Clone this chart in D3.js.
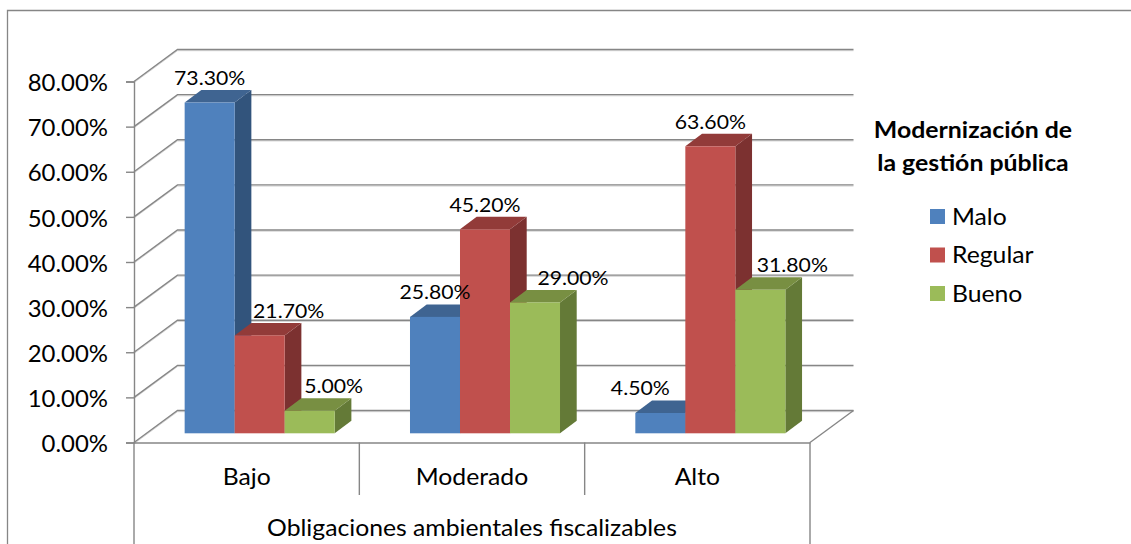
<!DOCTYPE html>
<html lang="es">
<head>
    <meta charset="UTF-8" />
    <title>Modernización de la gestión pública</title>
    <script src="https://d3js.org/d3.v7.min.js"></script>
    <style>
        html, body { margin: 0; padding: 0; background: #fff; }
        svg { display: block; }
        text { font-family: Lato, "Noto Sans", sans-serif; fill: #000; }
    </style>
</head>
<body>
    <div id="container"></div>
    <script>
        const categories = ["Bajo", "Moderado", "Alto"]
        const seriesNames = ["Malo", "Regular", "Bueno"]
        const malo = [73.3, 25.8, 4.5]
        const regular = [21.7, 45.2, 63.6]
        const bueno = [5.0, 29.0, 31.8]
        const yTicks = [0, 10, 20, 30, 40, 50, 60, 70, 80]
        const legendTitle = ["Modernización de", "la gestión pública"]
        const axisTitle = "Obligaciones ambientales fiscalizables"

        const width = 1131
        const height = 544
        const front = { left: 134, right: 810, top: 81.5, bottom: 442.5 }
        const wall = { dx: 43.5, dy: 32 }       // back wall offset of the 3d box
        const barShift = { dx: 13, dy: -9.2 }   // bars stand a bit inside the floor
        const depth = { dx: 16.7, dy: 12.5 }    // depth of a single bar
        const grey = "#868686"

        const colors = [
            { front: "#4f81bd", top: "#3f6491", side: "#32547c" },
            { front: "#c0504d", top: "#923b39", side: "#7c3130" },
            { front: "#9bbb59", top: "#788f42", side: "#647a37" }
        ]
        // labels were moved by hand in the original chart
        const labelShift = [[0, 29, 24], [0, 0, 38], [-20, 0, 32]]

        // the original text is a bit stretched sideways, Lato alone comes out too narrow
        const stretch = (selection, factor) => selection.each(function () {
            d3.select(this)
                .attr("textLength", this.getComputedTextLength() * factor)
                .attr("lengthAdjust", "spacingAndGlyphs")
        })

        const svg = d3.select("#container").append("svg")
            .attr("width", width)
            .attr("height", height)
            .attr("viewBox", [0, 0, width, height])

        // outer frame, only top and left show up
        svg.append("path")
            .attr("d", `M7.5,${height}V10.5H${width}`)
            .attr("fill", "none")
            .attr("stroke", grey)
            .attr("stroke-width", 1.3)

        const y = d3.scaleLinear().domain([0, 80]).range([front.bottom, front.top])
        const x = d3.scaleBand().domain(categories).range([front.left, front.right])
        const xBar = d3.scaleBand().domain(seriesNames)
            .range([0, x.bandwidth()]).paddingOuter(0.753).paddingInner(0)

        // gridlines along the side and back wall
        const gridPath = v => {
            const yy = y(v)
            return `M${front.left},${yy}L${front.left + wall.dx},${yy - wall.dy}H${front.right + wall.dx}`
        }
        svg.append("g").selectAll("path.shade")
            .data(yTicks)
            .join("path")
            .attr("d", v => gridPath(v))
            .attr("transform", "translate(0,1.2)")
            .attr("fill", "none")
            .attr("stroke", "#d4d4d4")
            .attr("stroke-width", 1)
        svg.append("g").selectAll("path.grid")
            .data(yTicks)
            .join("path")
            .attr("d", v => gridPath(v))
            .attr("fill", "none")
            .attr("stroke", grey)
            .attr("stroke-width", 1.4)

        // floor edge on the right
        svg.append("path")
            .attr("d", `M${front.right},${front.bottom}L${front.right + wall.dx},${front.bottom - wall.dy}`)
            .attr("stroke", grey)
            .attr("stroke-width", 1.4)

        const yAxis = d3.axisLeft(y)
            .tickValues(yTicks)
            .tickFormat(d => d3.format(".2f")(d) + "%")
            .tickSize(8)
            .tickPadding(18)

        const yAxisG = svg.append("g")
            .attr("transform", `translate(${front.left},0)`)
            .call(yAxis)
        yAxisG.selectAll("text")
            .attr("font-size", 23)
            .attr("font-family", null)
            .attr("dy", "0.40em")
            .call(stretch, 1.04)
        yAxisG.selectAll("line, path").attr("stroke", grey).attr("stroke-width", 1.4)

        // category axis with the two level label box
        const xAxisG = svg.append("g")
            .attr("transform", `translate(0,${front.bottom})`)
            .call(d3.axisBottom(x).tickSize(0).tickPadding(26))
        xAxisG.select(".domain").attr("stroke", grey).attr("stroke-width", 1.4)
        xAxisG.selectAll("text")
            .attr("font-size", 23)
            .attr("font-family", null)
            .call(stretch, 1.075)

        const edges = x.domain().map(c => x(c)).concat(front.right)
        svg.append("g").selectAll("line")
            .data(edges)
            .join("line")
            .attr("x1", d => d)
            .attr("x2", d => d)
            .attr("y1", front.bottom)
            .attr("y2", (d, i) => (i === 0 || i === edges.length - 1) ? height : 495)
            .attr("stroke", grey)
            .attr("stroke-width", 1.4)

        svg.append("text")
            .attr("x", (front.left + front.right) / 2)
            .attr("y", 536)
            .attr("text-anchor", "middle")
            .attr("font-size", 23)
            .text(axisTitle)
            .call(stretch, 1.075)

        // bars
        const values = [malo, regular, bueno]
        const bars = svg.append("g")
        const labels = svg.append("g")
        categories.forEach((cat, c) => {
            seriesNames.forEach((name, s) => {
                const v = values[s][c]
                const x0 = x(cat) + xBar(name) + barShift.dx
                const x1 = x0 + xBar.bandwidth()
                const yTop = y(v) + barShift.dy
                const yBase = y(0) + barShift.dy
                const g = bars.append("g")

                g.append("path")
                    .attr("d", `M${x1},${yTop}L${x1 + depth.dx},${yTop - depth.dy}V${yBase - depth.dy}L${x1},${yBase}Z`)
                    .attr("fill", colors[s].side)
                g.append("path")
                    .attr("d", `M${x0},${yTop}L${x0 + depth.dx},${yTop - depth.dy}H${x1 + depth.dx}L${x1},${yTop}Z`)
                    .attr("fill", colors[s].top)
                g.append("rect")
                    .attr("x", x0)
                    .attr("y", yTop)
                    .attr("width", xBar.bandwidth())
                    .attr("height", yBase - yTop)
                    .attr("fill", colors[s].front)

                labels.append("text")
                    .attr("x", (x0 + x1) / 2 + labelShift[c][s])
                    .attr("y", yTop - 17.5)
                    .attr("text-anchor", "middle")
                    .attr("font-size", 20)
                    .text(d3.format(".2f")(v) + "%")
                    .call(stretch, 1.06)
            })
        })

        // legend
        const legendTitleBase = [138, 171]
        svg.append("g").selectAll("text")
            .data(legendTitle)
            .join("text")
            .attr("x", 973)
            .attr("y", (d, i) => legendTitleBase[i])
            .attr("text-anchor", "middle")
            .attr("font-size", 23)
            .attr("font-weight", "bold")
            .text(d => d)
            .call(stretch, 1.08)

        const legendY = d3.scalePoint().domain(seriesNames).range([216.5, 293.5])
        const legend = svg.append("g").selectAll("g")
            .data(seriesNames)
            .join("g")
            .attr("transform", d => `translate(930,${legendY(d)})`)
        legend.append("rect")
            .attr("y", -7.5)
            .attr("width", 15)
            .attr("height", 15)
            .attr("fill", (d, i) => colors[i].front)
        legend.append("text")
            .attr("x", 22)
            .attr("y", 8)
            .attr("font-size", 23)
            .text(d => d)
            .call(stretch, 1.075)
    </script>
</body>
</html>
